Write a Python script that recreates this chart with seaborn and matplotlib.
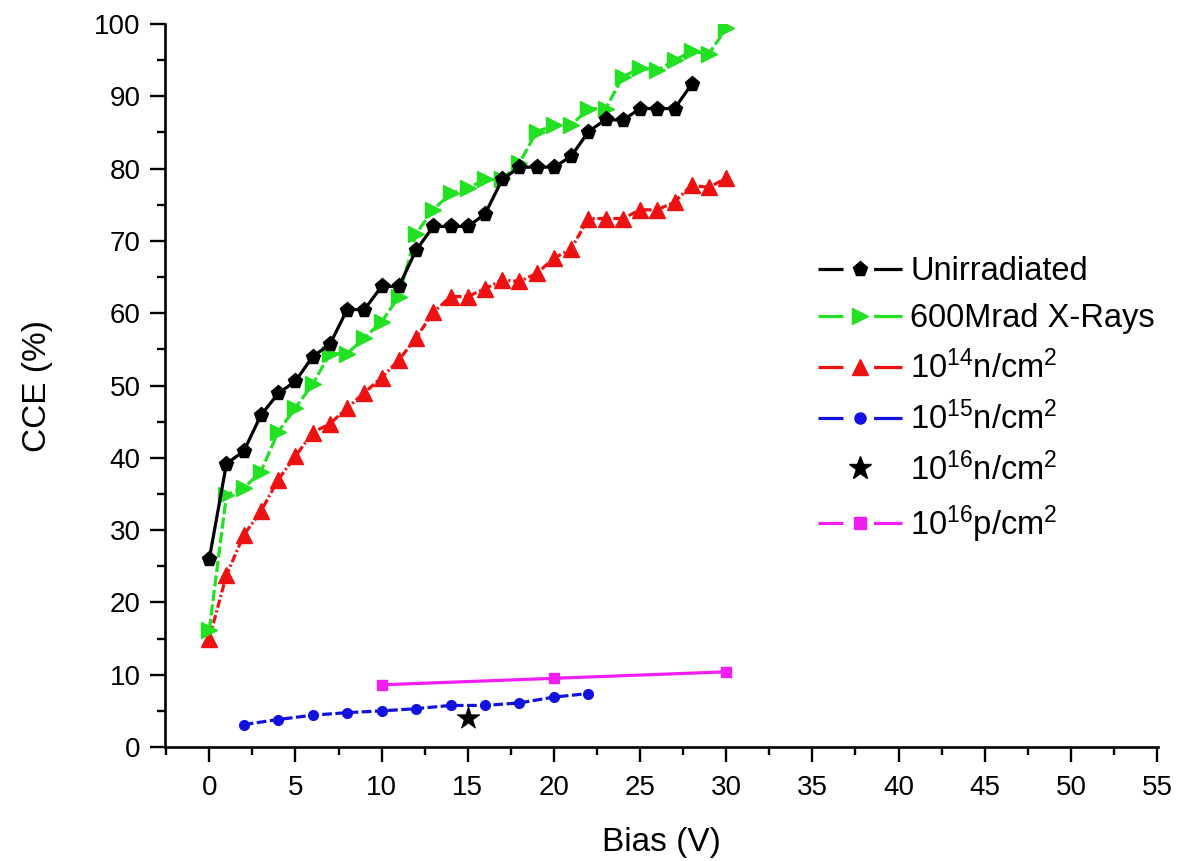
import numpy as np
import matplotlib
matplotlib.use("Agg")
import matplotlib.pyplot as plt
from matplotlib.lines import Line2D
from matplotlib.ticker import MultipleLocator
import seaborn as sns

# Charge collection efficiency vs bias voltage for differently irradiated detectors
bias_unirr = list(range(0, 29))
cce_unirr = [26.0, 39.2, 40.9, 45.9, 48.9, 50.6, 54.0, 55.7, 60.5, 60.5,
             63.7, 63.7, 68.7, 72.0, 72.0, 72.0, 73.7, 78.5, 80.2, 80.2,
             80.2, 81.7, 85.1, 86.8, 86.7, 88.3, 88.3, 88.3, 91.7]

bias_xray = list(range(0, 31))
cce_xray = [16.2, 34.9, 35.8, 38.1, 43.6, 46.9, 50.2, 54.4, 54.4, 56.6,
            58.8, 62.3, 71.0, 74.3, 76.6, 77.3, 78.5, 78.5, 80.8, 85.1,
            86.0, 86.0, 88.3, 88.3, 92.7, 93.9, 93.6, 95.0, 96.2, 95.9, 99.4]

bias_n14 = list(range(0, 31))
cce_n14 = [15.0, 23.8, 29.3, 32.6, 37.0, 40.2, 43.5, 44.7, 46.9, 49.0,
           51.1, 53.5, 56.6, 60.1, 62.3, 62.3, 63.4, 64.6, 64.4, 65.5,
           67.6, 68.9, 73.1, 73.1, 73.1, 74.3, 74.3, 75.4, 77.7, 77.4, 78.7]

bias_n15 = [2, 4, 6, 8, 10, 12, 14, 16, 18, 20, 22]
cce_n15 = [3.1, 3.8, 4.4, 4.75, 5.0, 5.3, 5.75, 5.75, 6.1, 6.9, 7.4]

bias_n16 = [15]
cce_n16 = [4.0]

bias_p16 = [10, 20, 30]
cce_p16 = [8.6, 9.5, 10.4]

labels = ["Unirradiated", "600Mrad X-Rays",
          r"10$^{\mathrm{14}}$n/cm$^{\mathrm{2}}$",
          r"10$^{\mathrm{15}}$n/cm$^{\mathrm{2}}$",
          r"10$^{\mathrm{16}}$n/cm$^{\mathrm{2}}$",
          r"10$^{\mathrm{16}}$p/cm$^{\mathrm{2}}$"]

sns.set_style("ticks")
plt.rcParams["font.family"] = ["Liberation Sans", "DejaVu Sans"]
plt.rcParams["mathtext.fontset"] = "custom"
plt.rcParams["mathtext.rm"] = "Liberation Sans"
plt.rcParams["mathtext.it"] = "Liberation Sans:italic"
plt.rcParams["mathtext.bf"] = "Liberation Sans:bold"
plt.rcParams["lines.scale_dashes"] = False
plt.rcParams["text.color"] = "black"
plt.rcParams["axes.labelcolor"] = "black"

fig = plt.figure(figsize=(11.8, 8.61), dpi=100)
ax = fig.add_axes([0.1398, 0.1324, 0.8415, 0.8397])

LW = 2.3
series = [
    # x, y, colour, marker, markersize, linestyle
    (bias_p16, cce_p16, "#f01ef0", "s", 7, "-"),
    (bias_n15, cce_n15, "#1212e0", "o", 7, (0, (7, 2.5))),
    (bias_n14, cce_n14, "#ee1111", "^", 11, (0, (6, 2, 1.5, 2))),
    (bias_xray, cce_xray, "#22e022", ">", 11, (0, (8, 2.5))),
    (bias_unirr, cce_unirr, "#000000", "p", 11, "-"),
]
for x, y, c, m, ms, ls in series:
    sns.lineplot(x=x, y=y, ax=ax, color=c, marker=m, markersize=ms,
                 linewidth=LW, linestyle=ls, markeredgecolor=c,
                 markeredgewidth=1, sort=False, legend=False)

sns.scatterplot(x=bias_n16, y=cce_n16, ax=ax, color="black", marker="*",
                s=300, edgecolor="black", linewidth=0.5, legend=False, zorder=5)

ax.set_xlim(-2.57, 55.05)
ax.set_ylim(0, 100)
ax.xaxis.set_major_locator(MultipleLocator(5))
ax.xaxis.set_minor_locator(MultipleLocator(2.5))
ax.yaxis.set_major_locator(MultipleLocator(10))
ax.yaxis.set_minor_locator(MultipleLocator(5))

sns.despine(ax=ax)
for s in ("left", "bottom"):
    ax.spines[s].set_linewidth(1.9)
    ax.spines[s].set_color("black")
ax.tick_params(which="major", length=10.5, width=1.7, direction="out",
               labelsize=20, colors="black")
ax.tick_params(axis="x", which="major", pad=10)
ax.tick_params(axis="y", which="major", pad=7)
ax.tick_params(which="minor", length=5.5, width=1.7, direction="out",
               colors="black")

ax.set_xlabel("Bias (V)", fontsize=24)
ax.set_ylabel("CCE (%)", fontsize=24)
ax.xaxis.set_label_coords(0.5, -0.11)
ax.yaxis.set_label_coords(-0.113, 0.5)

# Legend handles: line broken around the marker
legend_specs = [
    ("#000000", "p", 11),
    ("#22e022", ">", 11),
    ("#ee1111", "^", 11),
    ("#1212e0", "o", 8),
    ("#000000", "*", 17),
    ("#f01ef0", "s", 8),
]
handles = []
for c, m, ms in legend_specs:
    mk = Line2D([], [], color=c, marker=m, markersize=ms, linestyle="none",
                markeredgecolor=c)
    if m == "*":
        handles.append(mk)
    else:
        ln = Line2D([], [], color=c, linewidth=LW,
                    linestyle=(0, (18, 22, 21, 200)))
        handles.append((ln, mk))

fig.legend(handles, labels, loc="upper left",
           bbox_to_anchor=(818 / 1180, 1 - 256 / 861),
           frameon=False, fontsize=23.5, handlelength=2.57,
           handletextpad=0.25, labelspacing=0.5, borderpad=0,
           borderaxespad=0)

fig.savefig("out.png", dpi=100, facecolor="white")
